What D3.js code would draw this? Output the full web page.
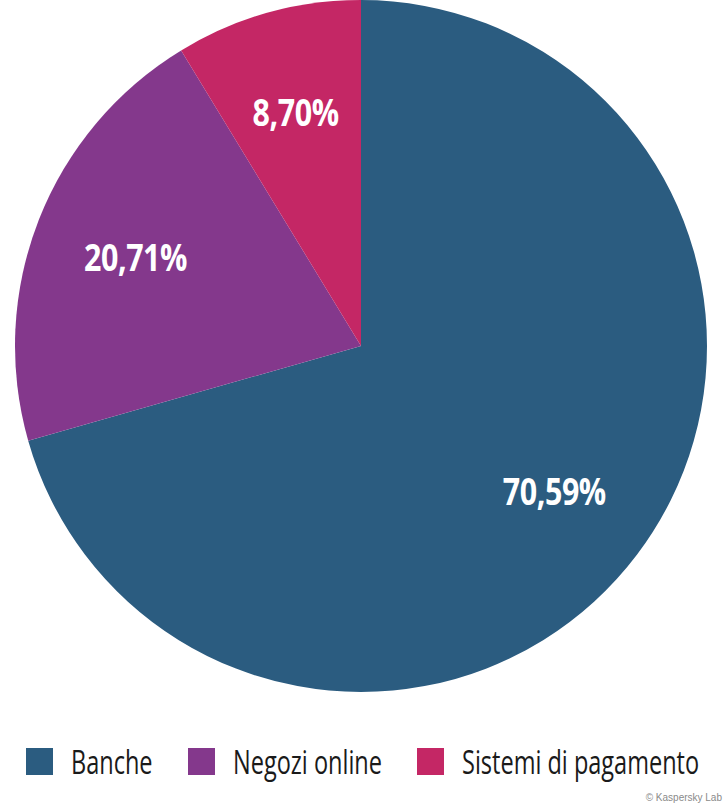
<!DOCTYPE html>
<meta charset="utf-8">
<style>
body { margin: 0; background: #fff; }
.label { fill: #fff; font-family: "Open Sans", sans-serif; font-weight: bold; font-size: 38px; letter-spacing: -0.5px; }
.legend text { fill: #1a1a1a; font-family: "Open Sans", sans-serif; font-size: 32px; }
.credit { fill: #8a8a8a; font-family: "Liberation Sans", sans-serif; font-size: 10px; }
</style>
<body>
<div id="chart"></div>
<script src="https://d3js.org/d3.v7.min.js"></script>
<script>
// data
var categories = ["Banche", "Negozi online", "Sistemi di pagamento"];
var shares = [70.59, 20.71, 8.70];
var colors = ["#2b5c80", "#84388c", "#c42765"];

var width = 726, height = 807;
var cx = 361, cy = 346, radius = 346;
var squeezeLabel = 0.8, squeezeLegend = 0.735; // no condensed font installed

var svg = d3.select("#chart").append("svg")
    .attr("width", width)
    .attr("height", height);

var data = categories.map(function(c, i) { return {name: c, value: shares[i], color: colors[i]}; });

var pie = d3.pie()
    .value(function(d) { return d.value; })
    .sort(null);

var arc = d3.arc().innerRadius(0).outerRadius(radius);
var labelArc = d3.arc().innerRadius(radius * 0.7).outerRadius(radius * 0.7);

var g = svg.append("g")
    .attr("transform", "translate(" + cx + "," + cy + ")");

var slices = g.selectAll(".slice")
    .data(pie(data))
  .enter().append("g")
    .attr("class", "slice");

slices.append("path")
    .attr("d", arc)
    .attr("fill", function(d) { return d.data.color; });

slices.append("text")
    .attr("class", "label")
    .attr("transform", function(d) {
        return "translate(" + labelArc.centroid(d) + ") scale(" + squeezeLabel + ",1)";
    })
    .attr("text-anchor", "middle")
    .attr("dy", "0.35em")
    .text(function(d) { return d3.format(".2f")(d.data.value).replace(".", ",") + "%"; });

// legend
var legendX = d3.scaleOrdinal()
    .domain(categories)
    .range([26, 188, 417]);

var legend = svg.append("g")
    .attr("class", "legend")
    .selectAll("g")
    .data(data)
  .enter().append("g")
    .attr("transform", function(d) { return "translate(" + legendX(d.name) + ",748)"; });

legend.append("rect")
    .attr("width", 27)
    .attr("height", 27)
    .attr("fill", function(d) { return d.color; });

legend.append("text")
    .attr("transform", "translate(45,26) scale(" + squeezeLegend + ",1)")
    .text(function(d) { return d.name; });

svg.append("text")
    .attr("class", "credit")
    .attr("x", 722)
    .attr("y", 801)
    .attr("text-anchor", "end")
    .text("© Kaspersky Lab");
</script>
</body>
